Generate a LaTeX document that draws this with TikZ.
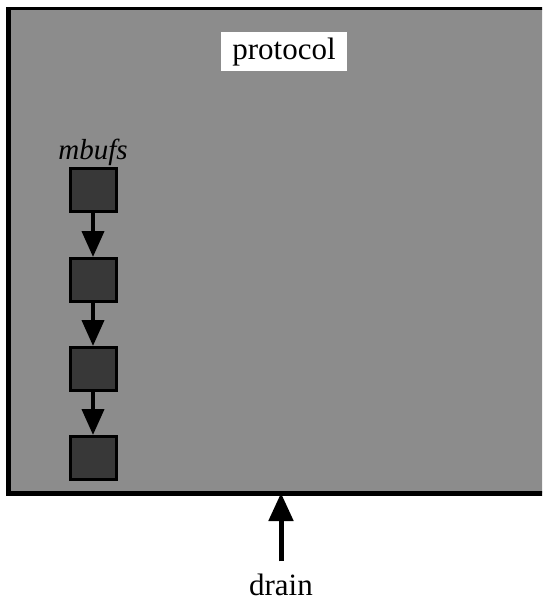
\documentclass[tikz,border=0pt]{standalone}
\usepackage{fontspec}
\setmainfont{Liberation Serif}
\usetikzlibrary{arrows.meta,positioning}
\begin{document}
\begin{tikzpicture}[x=1pt,y=-1pt]
\tikzstyle{mbuf} = [draw=black, line width=3pt, fill=black!78, minimum width=46pt, minimum height=43pt, inner sep=0pt]
\tikzstyle{link} = [line width=4pt, -{Triangle[length=26pt,width=22pt]}]
\tikzstyle{bigtext} = [font=\fontsize{31}{36}\selectfont, inner sep=0pt]

\useasboundingbox (0,0) rectangle (542,604);
\clip (0,0) rectangle (542,604);

% the protocol box, its right side runs off the page
\fill[black!45] (8,9) rectangle (600,493);
\draw[line width=3pt] (8,9) -- (600,9);
\draw[line width=5pt] (8,7.5) -- (8,493) -- (600,493);

\node[bigtext, fill=white, minimum width=126pt, minimum height=39pt] (protocol) at (284,52) {protocol};

\node[mbuf, label={[font=\fontsize{29}{34}\selectfont\itshape, inner sep=1pt] above:mbufs}] (m1) at (93,190) {};
\node[mbuf] (m2) at (93,280) {};
\node[mbuf] (m3) at (93,369) {};
\node[mbuf] (m4) at (93,458) {};

\draw[link] (m1.south) -- (m2.north);
\draw[link] (m2.south) -- (m3.north);
\draw[link] (m3.south) -- (m4.north);

\coordinate (tap) at (281,493);
\node[bigtext, anchor=base] (drain) at (281,595) {drain};
\draw[line width=5pt, -{Triangle[length=28pt,width=24pt]}] (drain.north) ++(0,-12) -- (tap);

\end{tikzpicture}
\end{document}
